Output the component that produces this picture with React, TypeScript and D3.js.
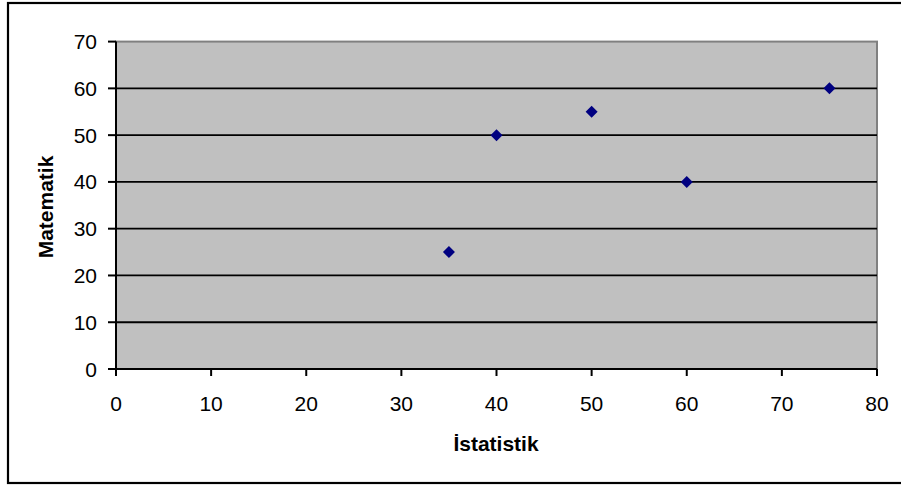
import { useEffect, useRef } from 'react'
import * as d3 from 'd3'

const istatistik = [35, 40, 50, 60, 75]
const matematik = [25, 50, 55, 40, 60]
const xTicks = [0, 10, 20, 30, 40, 50, 60, 70, 80]
const yTicks = [0, 10, 20, 30, 40, 50, 60, 70]

export default function App() {
  const ref = useRef<SVGSVGElement | null>(null)

  useEffect(() => {
    if (!ref.current) return
    const svg = d3.select(ref.current)
    svg.selectAll('*').remove()

    const left = 116, right = 877, top = 41.6, bottom = 369
    const x = d3.scaleLinear().domain([0, 80]).range([left, right])
    const y = d3.scaleLinear().domain([0, 70]).range([bottom, top])
    const font = 'Arial, "Liberation Sans", sans-serif'

    // outer chart border (right side cut off by the frame)
    svg.append('rect').attr('x', 8).attr('y', 3).attr('width', 920).attr('height', 480)
      .attr('fill', '#fff').attr('stroke', '#000').attr('stroke-width', 2.2)

    // plot area
    svg.append('rect').attr('x', left).attr('y', top)
      .attr('width', right - left).attr('height', bottom - top)
      .attr('fill', '#c0c0c0').attr('stroke', '#808080').attr('stroke-width', 2)

    // gridlines
    svg.append('g').selectAll('line').data(yTicks.filter(d => d > 0 && d < 70)).enter().append('line')
      .attr('x1', left).attr('x2', right)
      .attr('y1', d => y(d)).attr('y2', d => y(d))
      .attr('stroke', '#000').attr('stroke-width', 1.8)

    // axes
    svg.append('line').attr('x1', left).attr('x2', left).attr('y1', top).attr('y2', bottom)
      .attr('stroke', '#000').attr('stroke-width', 2)
    svg.append('line').attr('x1', left).attr('x2', right).attr('y1', bottom).attr('y2', bottom)
      .attr('stroke', '#000').attr('stroke-width', 2)

    // y ticks
    const yg = svg.append('g')
    yg.selectAll('line').data(yTicks).enter().append('line')
      .attr('x1', left - 8).attr('x2', left)
      .attr('y1', d => y(d)).attr('y2', d => y(d))
      .attr('stroke', '#000').attr('stroke-width', 2)
    yg.selectAll('text').data(yTicks).enter().append('text')
      .attr('x', 97).attr('y', d => y(d) + 7.5)
      .attr('text-anchor', 'end').attr('font-family', font).attr('font-size', 21)
      .attr('fill', '#000').text(d => d)

    // x ticks
    const xg = svg.append('g')
    xg.selectAll('line').data(xTicks).enter().append('line')
      .attr('x1', d => x(d)).attr('x2', d => x(d))
      .attr('y1', bottom).attr('y2', bottom + 7)
      .attr('stroke', '#000').attr('stroke-width', 2)
    xg.selectAll('text').data(xTicks).enter().append('text')
      .attr('x', d => x(d)).attr('y', 411)
      .attr('text-anchor', 'middle').attr('font-family', font).attr('font-size', 21)
      .attr('fill', '#000').text(d => d)

    // axis titles
    svg.append('text').attr('x', 496).attr('y', 451)
      .attr('text-anchor', 'middle').attr('font-family', font).attr('font-size', 21)
      .attr('font-weight', 'bold').attr('fill', '#000').text('İstatistik')
    svg.append('text').attr('transform', 'translate(53,207) rotate(-90)')
      .attr('text-anchor', 'middle').attr('font-family', font).attr('font-size', 21)
      .attr('font-weight', 'bold').attr('fill', '#000').text('Matematik')

    // points
    const pts = istatistik.map((v, i) => [v, matematik[i]] as [number, number])
    svg.append('g').selectAll('path').data(pts).enter().append('path')
      .attr('d', d => {
        const cx = x(d[0]), cy = y(d[1]), r = 6
        return `M${cx},${cy - r}L${cx + r},${cy}L${cx},${cy + r}L${cx - r},${cy}Z`
      })
      .attr('fill', '#000080')
  }, [])

  return (
    <svg ref={ref} width={901} height={489}
      style={{ position: 'absolute', left: 0, top: 0, background: '#fff' }} />
  )
}
